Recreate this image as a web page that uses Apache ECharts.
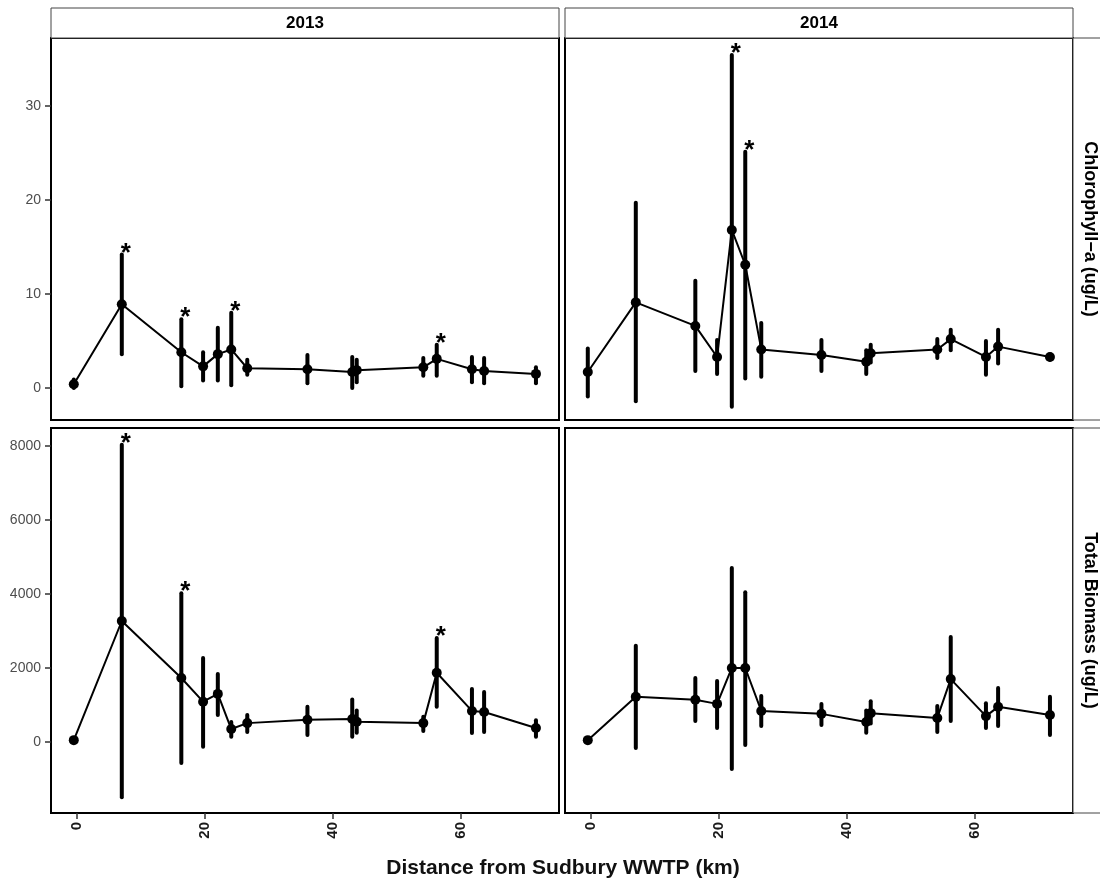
<!DOCTYPE html>
<html>
<head>
<meta charset="utf-8">
<script src="https://cdn.jsdelivr.net/npm/echarts@6/dist/echarts.min.js"></script>
<style>html,body{margin:0;padding:0;background:#fff}#c{width:1100px;height:884px}</style>
</head>
<body>
<div id="c"></div>
<script>
// ---- data ----
const years = ['2013', '2014'];
const rowLabels = ['Chlorophyll\u2212a (ug/L)', 'Total Biomass (ug/L)'];
const dist = [-0.5, 7.0, 16.3, 19.7, 22.0, 24.1, 26.6, 36.0, 43.0, 43.7, 54.1, 56.2, 61.7, 63.6, 71.7];

const chl2013   = [0.4, 8.9, 3.8, 2.3, 3.6, 4.1, 2.1, 2.0, 1.7, 1.9, 2.2, 3.1, 2.0, 1.8, 1.5];
const chl2013Lo = [0.0, 3.6, 0.2, 0.8, 0.8, 0.3, 1.4, 0.5, 0.0, 0.6, 1.3, 1.3, 0.6, 0.5, 0.5];
const chl2013Hi = [0.9, 14.2, 7.3, 3.8, 6.4, 8.0, 3.0, 3.5, 3.3, 3.0, 3.2, 4.6, 3.3, 3.2, 2.2];
const chl2013Star = [0, 1, 1, 0, 0, 1, 0, 0, 0, 0, 0, 1, 0, 0, 0];

const chl2014   = [1.7, 9.1, 6.6, 3.3, 16.8, 13.1, 4.1, 3.5, 2.8, 3.7, 4.1, 5.2, 3.3, 4.4, 3.3];
const chl2014Lo = [-0.9, -1.4, 1.8, 1.5, -2.0, 1.0, 1.2, 1.8, 1.5, 2.7, 3.2, 4.0, 1.4, 2.6, 3.0];
const chl2014Hi = [4.2, 19.7, 11.4, 5.1, 35.4, 25.1, 6.9, 5.1, 4.0, 4.6, 5.2, 6.2, 5.0, 6.2, 3.6];
const chl2014Star = [0, 0, 0, 0, 1, 1, 0, 0, 0, 0, 0, 0, 0, 0, 0];

const bio2013   = [50, 3270, 1730, 1090, 1300, 350, 510, 600, 620, 550, 510, 1870, 840, 810, 380];
const bio2013Lo = [30, -1490, -570, -130, 730, 140, 270, 190, 140, 250, 300, 950, 240, 270, 140];
const bio2013Hi = [70, 8030, 4020, 2270, 1840, 540, 730, 950, 1150, 850, 680, 2810, 1430, 1350, 590];
const bio2013Star = [0, 1, 1, 0, 0, 0, 0, 0, 0, 0, 0, 1, 0, 0, 0];

const bio2014   = [50, 1220, 1140, 1030, 2000, 2000, 840, 760, 540, 780, 650, 1700, 700, 950, 730];
const bio2014Lo = [30, -160, 570, 380, -730, -80, 430, 460, 250, 500, 270, 570, 380, 430, 190];
const bio2014Hi = [70, 2600, 1730, 1650, 4700, 4050, 1240, 1030, 850, 1100, 970, 2840, 1050, 1460, 1220];
const bio2014Star = [0, 0, 0, 0, 0, 0, 0, 0, 0, 0, 0, 0, 0, 0, 0];

const xTicks = [0, 20, 40, 60];
const chlTicks = [0, 10, 20, 30];
const bioTicks = [0, 2000, 4000, 6000, 8000];
const xTitle = 'Distance from Sudbury WWTP (km)';

// ---- layout ----
const FONT = '"Liberation Sans", Arial, sans-serif';
const panels = [
  {mean: chl2013, lo: chl2013Lo, hi: chl2013Hi, star: chl2013Star},
  {mean: chl2014, lo: chl2014Lo, hi: chl2014Hi, star: chl2014Star},
  {mean: bio2013, lo: bio2013Lo, hi: bio2013Hi, star: bio2013Star},
  {mean: bio2014, lo: bio2014Lo, hi: bio2014Hi, star: bio2014Star}
];
const L = [51, 565], W = 508;
const T = [38, 428], H = [382, 385];
const grids = [], xAxes = [], yAxes = [], series = [];
panels.forEach((p, i) => {
  const col = i % 2, row = Math.floor(i / 2);
  grids.push({left: L[col], top: T[row], width: W, height: H[row], show: true,
    borderColor: '#000', borderWidth: 2, backgroundColor: '#fff', containLabel: false});
  xAxes.push({type: 'value', gridIndex: i, min: -4.06, max: 75.3, position: 'bottom',
    splitLine: {show: false}, axisLine: {show: false, onZero: false},
    axisTick: {show: row === 1, length: 6, lineStyle: {color: '#333', width: 1.5}, customValues: xTicks},
    axisLabel: {show: row === 1, rotate: 90, fontSize: 15, fontWeight: 'bold', color: '#1a1a1a', fontFamily: FONT,
      margin: 9, customValues: xTicks, formatter: v => String(v)}});
  yAxes.push({type: 'value', gridIndex: i, position: 'left',
    min: row === 0 ? -3.4 : -1919, max: row === 0 ? 37.2 : 8486,
    splitLine: {show: false}, axisLine: {show: false, onZero: false},
    axisTick: {show: col === 0, length: 6, lineStyle: {color: '#333', width: 1.5}, customValues: row === 0 ? chlTicks : bioTicks},
    axisLabel: {show: col === 0, fontSize: 14, color: '#4d4d4d', fontFamily: FONT, margin: 10,
      customValues: row === 0 ? chlTicks : bioTicks, formatter: v => String(v)}});
  series.push({type: 'custom', xAxisIndex: i, yAxisIndex: i, z: 2,
    data: dist.map((d, k) => [d, p.lo[k], p.hi[k]]),
    encode: {x: 0, y: [1, 2]},
    renderItem: (params, api) => {
      const a = api.coord([api.value(0), api.value(1)]);
      const b = api.coord([api.value(0), api.value(2)]);
      return {type: 'line', shape: {x1: a[0], y1: a[1], x2: b[0], y2: b[1]},
        style: {stroke: '#000', lineWidth: 4, lineCap: 'round'}};
    }, silent: true, animation: false});
  series.push({type: 'line', xAxisIndex: i, yAxisIndex: i, z: 3,
    data: dist.map((d, k) => [d, p.mean[k]]),
    symbol: 'circle', symbolSize: 10, showSymbol: true,
    itemStyle: {color: '#000'}, lineStyle: {color: '#000', width: 2}, animation: false, silent: true});
  series.push({type: 'custom', xAxisIndex: i, yAxisIndex: i, z: 4,
    data: dist.map((d, k) => [d, p.hi[k], p.star[k]]).filter(r => r[2] === 1),
    encode: {x: 0, y: 1},
    renderItem: (params, api) => {
      const c = api.coord([api.value(0), api.value(1)]);
      return {type: 'text', x: c[0] + 4, y: c[1] - 1,
        style: {text: '*', fontSize: 26, fontWeight: 'bold', fontFamily: FONT, fill: '#000',
          align: 'center', verticalAlign: 'middle'}};
    }, silent: true, animation: false});
});

const graphics = [];
// top strips
[0, 1].forEach(col => {
  graphics.push({type: 'rect', shape: {x: L[col], y: 8, width: W, height: 30},
    style: {fill: '#fff', stroke: '#444', lineWidth: 1}, z: 10});
  graphics.push({type: 'text', x: L[col] + W / 2, y: 23,
    style: {text: years[col], fontSize: 17, fontWeight: 'bold', fontFamily: FONT, fill: '#000',
      align: 'center', verticalAlign: 'middle'}, z: 11});
});
// right strips
[0, 1].forEach(row => {
  graphics.push({type: 'rect', shape: {x: L[1] + W, y: T[row], width: 40, height: H[row]},
    style: {fill: '#fff', stroke: '#444', lineWidth: 1}, z: 10});
  graphics.push({type: 'text', x: 1090, y: T[row] + H[row] / 2, rotation: -Math.PI / 2,
    style: {text: rowLabels[row], fontSize: 18, fontWeight: 'bold', fontFamily: FONT, fill: '#000',
      align: 'center', verticalAlign: 'middle'}, z: 11});
});
graphics.push({type: 'text', x: 563, y: 868,
  style: {text: xTitle, fontSize: 21, fontWeight: 'bold', fontFamily: FONT, fill: '#111',
    align: 'center', verticalAlign: 'middle'}, z: 11});

const chart = echarts.init(document.getElementById('c'), null, {renderer: 'canvas'});
chart.setOption({
  backgroundColor: '#fff',
  animation: false,
  grid: grids, xAxis: xAxes, yAxis: yAxes, series: series,
  graphic: graphics
});
</script>
</body>
</html>
